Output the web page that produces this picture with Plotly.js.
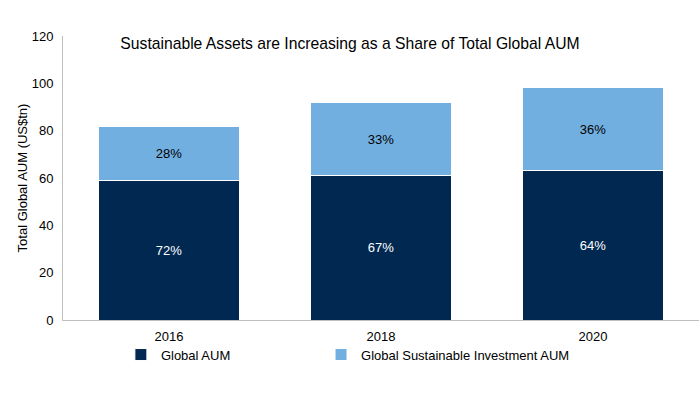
<!DOCTYPE html>
<html>
<head>
<meta charset="utf-8">
<script src="https://cdn.plot.ly/plotly-3.0.1.min.js"></script>
<style>html,body{margin:0;padding:0;background:#fff;}#chart{width:700px;height:400px;}</style>
</head>
<body>
<div id="chart"></div>
<script>
const years = ['2016', '2018', '2020'];
const globalAUM = [59.0, 61.1, 63.2];
const sustainableAUM = [22.8, 30.7, 35.0];
const globalShare = ['72%', '67%', '64%'];
const sustainableShare = ['28%', '33%', '36%'];
const seriesNames = ['Global AUM', 'Global Sustainable Investment AUM'];

const font = 'Liberation Sans, Arial, sans-serif';

const traces = [
  {
    type: 'bar', x: years, y: globalAUM, name: seriesNames[0], legend: 'legend',
    text: globalShare, textposition: 'inside', insidetextanchor: 'middle',
    textfont: {color: '#ffffff', size: 13, family: font},
    marker: {color: '#002851', line: {color: '#ffffff', width: 1}},
    hoverinfo: 'none'
  },
  {
    type: 'bar', x: years, y: sustainableAUM, name: seriesNames[1], legend: 'legend2',
    text: sustainableShare, textposition: 'inside', insidetextanchor: 'middle',
    textfont: {color: '#000000', size: 13, family: font},
    marker: {color: '#72afe1', line: {color: '#ffffff', width: 1}},
    hoverinfo: 'none'
  }
];

const legendBase = {orientation: 'h', xanchor: 'left', y: -0.069, yanchor: 'top',
                    font: {size: 13}, itemwidth: 30, bgcolor: 'rgba(0,0,0,0)'};

const layout = {
  width: 700, height: 400,
  barmode: 'stack', bargap: 0.335,
  margin: {l: 63, r: 1, t: 36, b: 80},
  paper_bgcolor: '#ffffff', plot_bgcolor: '#ffffff',
  font: {family: font, size: 13, color: '#000000'},
  title: {text: 'Sustainable Assets are Increasing as a Share of Total Global AUM',
          font: {size: 15.7, family: font, color: '#000000'},
          x: 0.5, xref: 'container', xanchor: 'center', y: 0.89, yref: 'container', yanchor: 'middle'},
  xaxis: {type: 'category', showline: true, linecolor: '#bfbfbf', linewidth: 1,
          showgrid: false, ticks: 'outside', ticklen: 4, tickcolor: 'rgba(0,0,0,0)',
          tickfont: {size: 13}, zeroline: false},
  yaxis: {range: [0, 120], dtick: 20, showline: true, linecolor: '#bfbfbf', linewidth: 1,
          showgrid: false, zeroline: false, ticks: 'outside', ticklen: 6, tickcolor: 'rgba(0,0,0,0)',
          tickfont: {size: 13},
          title: {text: 'Total Global AUM (US$tn)', font: {size: 13}, standoff: 1}},
  showlegend: true,
  legend: Object.assign({}, legendBase, {x: 0.091}),
  legend2: Object.assign({}, legendBase, {x: 0.4057})
};

Plotly.newPlot('chart', traces, layout, {displayModeBar: false, staticPlot: true});
</script>
</body>
</html>
